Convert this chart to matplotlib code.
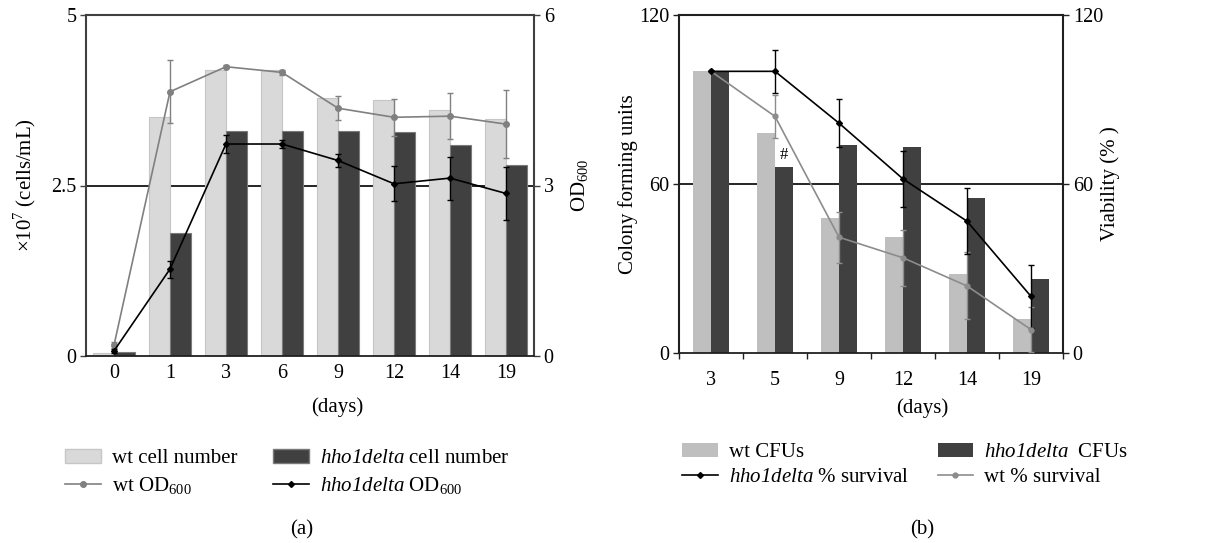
import matplotlib
matplotlib.use("Agg")
import matplotlib.pyplot as plt
from matplotlib.lines import Line2D
from matplotlib.patches import Patch
import numpy as np

plt.rcParams['font.family'] = ['Liberation Serif', 'DejaVu Serif']
plt.rcParams['mathtext.fontset'] = 'custom'
plt.rcParams['mathtext.rm'] = 'Liberation Serif'
plt.rcParams['mathtext.sf'] = 'Liberation Serif:italic'

# (a) growth: cell number (x10^7 cells/mL) and OD600
days_a = ["0", "1", "3", "6", "9", "12", "14", "19"]
wt_cells = [0.05, 3.5, 4.2, 4.2, 3.79, 3.76, 3.6, 3.47]
hho_cells = [0.06, 1.8, 3.3, 3.3, 3.3, 3.29, 3.1, 2.8]
wt_od = [0.19, 4.65, 5.09, 4.99, 4.36, 4.2, 4.22, 4.08]
wt_od_err = [0.05, 0.55, 0.03, 0.05, 0.21, 0.33, 0.41, 0.6]
hho_od = [0.09, 1.53, 3.73, 3.73, 3.44, 3.03, 3.13, 2.86]
hho_od_err = [0.03, 0.15, 0.15, 0.07, 0.12, 0.31, 0.38, 0.47]

# (b) survival: CFUs and % viability
days_b = ["3", "5", "9", "12", "14", "19"]
wt_cfu = [100, 78.2, 48.1, 41.1, 28, 12]
hho_cfu = [100, 66.1, 74, 73.1, 55.1, 26.1]
hho_surv = [100, 100, 81.6, 61.8, 46.8, 20.1]
hho_surv_err = [0, 7.6, 8.6, 10, 11.8, 11.3]
wt_surv = [100, 84, 41.1, 33.8, 23.8, 8.3]
wt_surv_err = [0, 7.5, 9, 10, 11.9, 8]

HHO = r"$\mathsf{hho1delta}$"
FS = 15
TFS = 14.5
W, H = 1228, 543
fig = plt.figure(figsize=(W / 100, H / 100), dpi=100)

def style_axes(ax, ax2, spine_col):
    for s in ["left", "right", "top"]:
        ax.spines[s].set_color(spine_col)
        ax.spines[s].set_linewidth(1.5)
    ax.spines["bottom"].set_color("#202020")
    ax.spines["bottom"].set_linewidth(1.3)
    for s in ax2.spines.values():
        s.set_visible(False)
    for a in (ax, ax2):
        a.tick_params(axis="y", direction="out", length=4, width=1, labelsize=TFS,
                      pad=3, colors=spine_col, labelcolor="black")

# ---------------- (a) ----------------
ax = fig.add_axes([86 / W, 1 - 356 / H, 448 / W, 341 / H])
ax2 = ax.twinx()
x = np.arange(len(days_a))
bw = 0.375
ax.axhline(2.5, color="black", lw=1.2, zorder=0)
ax.bar(x - bw / 2, wt_cells, bw, color="#d9d9d9", edgecolor="#c6c6c6", lw=0.8, zorder=2)
ax.bar(x + bw / 2, hho_cells, bw, color="#404040", edgecolor="#7a7a7a", lw=0.8, zorder=2)
ax2.errorbar(x, wt_od, yerr=wt_od_err, color="#808080", marker="o", ms=4, lw=1.2, capsize=2.5, elinewidth=1)
ax2.errorbar(x, hho_od, yerr=hho_od_err, color="black", marker="D", ms=3, lw=1.2, capsize=2.5, elinewidth=1)
ax.set_xlim(-0.5, len(days_a) - 0.5)
ax.set_ylim(0, 5)
ax2.set_ylim(0, 6)
ax.set_yticks([0, 2.5, 5])
ax.set_yticklabels(["0", "2.5", "5"])
ax2.set_yticks([0, 3, 6])
ax.set_xticks(x)
ax.set_xticklabels(days_a, fontsize=TFS)
ax.tick_params(axis="x", length=0, pad=6)
style_axes(ax, ax2, "#404040")
ax.set_ylabel(r"×10$^7$ (cells/mL)", fontsize=FS)
ax.yaxis.set_label_coords(-0.136, 0.5)
ax.yaxis.label.set_verticalalignment("center")
ax2.set_ylabel(r"OD$_{600}$", fontsize=FS)
ax2.yaxis.set_label_coords(1.103, 0.5)
ax2.yaxis.label.set_verticalalignment("center")

handles_a = [
    Patch(facecolor="#d9d9d9", edgecolor="#c6c6c6"),
    Line2D([], [], color="#808080", marker="o", ms=4, lw=1.2),
    Patch(facecolor="#404040", edgecolor="#7a7a7a"),
    Line2D([], [], color="black", marker="D", ms=3, lw=1.2),
]
labels_a = ["wt cell number", r"wt OD$_{600}$", HHO + " cell number", HHO + r" OD$_{600}$"]
fig.legend(handles_a, labels_a, ncol=2, loc="center left",
           bbox_to_anchor=(55 / W, 1 - 473 / H), frameon=False, fontsize=FS,
           borderpad=0, handlelength=1.7, handletextpad=0.55, columnspacing=1.7,
           labelspacing=0.35)

fig.text(337 / W, 1 - 407 / H, "(days)", ha="center", va="center", fontsize=FS)
fig.text(302 / W, 1 - 530 / H, "(a)", ha="center", va="center", fontsize=FS)

# ---------------- (b) ----------------
bx = fig.add_axes([679 / W, 1 - 353 / H, 384 / W, 338 / H])
bx2 = bx.twinx()
xb = np.arange(len(days_b))
bw2 = 0.286
bx.axhline(60, color="black", lw=1.2, zorder=0)
bx.bar(xb - bw2 / 2, wt_cfu, bw2, color="#bfbfbf", zorder=2)
bx.bar(xb + bw2 / 2, hho_cfu, bw2, color="#404040", zorder=2)
bx2.errorbar(xb, wt_surv, yerr=wt_surv_err, color="#8c8c8c", marker="o", ms=3.5, lw=1.2, capsize=2.5, elinewidth=1)
bx2.errorbar(xb, hho_surv, yerr=hho_surv_err, color="black", marker="D", ms=3, lw=1.2, capsize=2.5, elinewidth=1)
bx.text(1 + bw2 / 2, 70.3, "#", ha="center", va="center", fontsize=12)
bx.set_xlim(-0.5, len(days_b) - 0.5)
bx.set_ylim(0, 120)
bx2.set_ylim(0, 120)
bx.set_yticks([0, 60, 120])
bx2.set_yticks([0, 60, 120])
bx.set_xticks(xb)
bx.set_xticklabels(days_b, fontsize=TFS)
bx.set_xticks(np.arange(-0.5, len(days_b)), minor=True)
bx.tick_params(axis="x", which="major", length=0, pad=13)
bx.tick_params(axis="x", which="minor", length=4, width=1, direction="out", color="#202020")
style_axes(bx, bx2, "#202020")
bx.set_ylabel("Colony forming units", fontsize=FS)
bx.yaxis.set_label_coords(-0.133, 0.5)
bx.yaxis.label.set_verticalalignment("center")
bx2.set_ylabel("Viability (% )", fontsize=FS)
bx2.yaxis.set_label_coords(1.122, 0.5)
bx2.yaxis.label.set_verticalalignment("center")

handles_b = [
    Patch(facecolor="#bfbfbf"),
    Line2D([], [], color="black", marker="D", ms=3, lw=1.2),
    Patch(facecolor="#404040"),
    Line2D([], [], color="#8c8c8c", marker="o", ms=3.5, lw=1.2),
]
labels_b = ["wt CFUs", HHO + " % survival", HHO + "  CFUs", "wt % survival"]
fig.legend(handles_b, labels_b, ncol=2, loc="center left",
           bbox_to_anchor=(672 / W, 1 - 465 / H), frameon=False, fontsize=FS,
           borderpad=0, handlelength=1.7, handletextpad=0.55, columnspacing=1.35,
           labelspacing=0.25)

fig.text(922 / W, 1 - 408 / H, "(days)", ha="center", va="center", fontsize=FS)
fig.text(922 / W, 1 - 530 / H, "(b)", ha="center", va="center", fontsize=FS)

fig.savefig("out.png", dpi=100)
